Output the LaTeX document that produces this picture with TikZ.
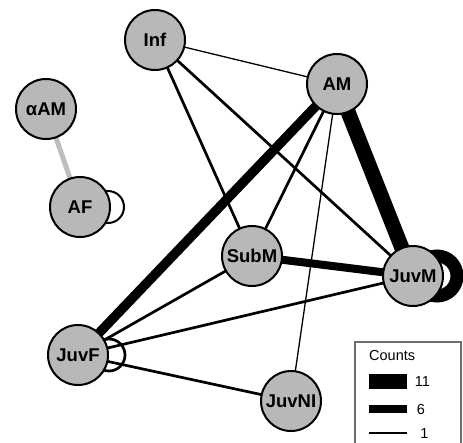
\documentclass[tikz,border=0pt]{standalone}
\usepackage{fontspec}
\setmainfont{Liberation Sans}
\pgfdeclarelayer{background}
\pgfsetlayers{background,main}
\definecolor{nodegray}{RGB}{184,184,184}
\definecolor{edgegray}{RGB}{190,190,190}
\definecolor{boxgray}{RGB}{110,110,110}
\tikzset{
  animal/.style={circle,draw=black,line width=2pt,fill=nodegray,minimum size=60pt,inner sep=0pt,
    font=\fontsize{18.5}{20}\selectfont\bfseries},
  cone/.style={line width=1.3pt},
  ctwo/.style={line width=2.7pt},
  legtext/.style={font=\fontsize{14.5}{16}\selectfont,inner sep=0pt}
}
\begin{document}
\begin{tikzpicture}[x=1pt,y=-1pt]
\useasboundingbox (0,0) rectangle (463,442);
% nodes
\node[animal] (Inf) at (155,40) {Inf};
\node[animal] (aAM) at (46,109) {αAM};
\node[animal] (AF) at (80,207) {AF};
\node[animal] (AM) at (337,84) {AM};
\node[animal] (SubM) at (252,256) {SubM};
\node[animal] (JuvM) at (413,276) {JuvM};
\node[animal] (JuvF) at (78,355) {JuvF};
\node[animal] (JuvNI) at (291,401) {JuvNI};
\begin{pgfonlayer}{background}
\draw[edgegray,line width=5pt] (aAM.center) -- (AF.center);
\draw[line width=2pt] (AF.center) ++(28,0) circle[radius=16];
\draw[cone] (Inf.center) -- (AM.center);
\draw[ctwo] (Inf.center) -- (SubM.center);
\draw[ctwo] (Inf.center) -- (JuvM.center);
\draw[line width=9.5pt] (AM.center) -- (JuvF.center);
\draw[ctwo] (AM.center) -- (SubM.center);
\draw[line width=15pt] (AM.center) -- (JuvM.center);
\draw[cone] (AM.center) -- (JuvNI.center);
\draw[line width=8pt] (SubM.center) -- (JuvM.center);
\draw[ctwo] (SubM.center) -- (JuvF.center);
\draw[ctwo] (JuvF.center) -- (JuvM.center);
\draw[ctwo] (JuvF.center) -- (JuvNI.center);
\draw[ctwo] (JuvF.center) ++(31,0) circle[radius=16];
\draw[line width=13pt] (JuvM.center) ++(24,0) circle[radius=20];
\end{pgfonlayer}
% legend
\draw[boxgray,line width=1.3pt] (355,446) -- (355,342) -- (461,342) -- (461,446);
\node[legtext,anchor=west] (lt) at (369,356) {Counts};
\coordinate (l11a) at (369,381.5); \coordinate (l11b) at (407,381.5);
\coordinate (l6a) at (369,409); \coordinate (l6b) at (407,409);
\coordinate (l1a) at (369,433); \coordinate (l1b) at (407,433);
\draw[line width=15pt] (l11a) -- (l11b);
\draw[line width=8pt] (l6a) -- (l6b);
\draw[line width=1.4pt] (l1a) -- (l1b);
\node[legtext] (n11) at (422.5,382) {11};
\node[legtext] (n6) at (421,409.5) {6};
\node[legtext] (n1) at (424.5,433.5) {1};
\end{tikzpicture}
\end{document}
